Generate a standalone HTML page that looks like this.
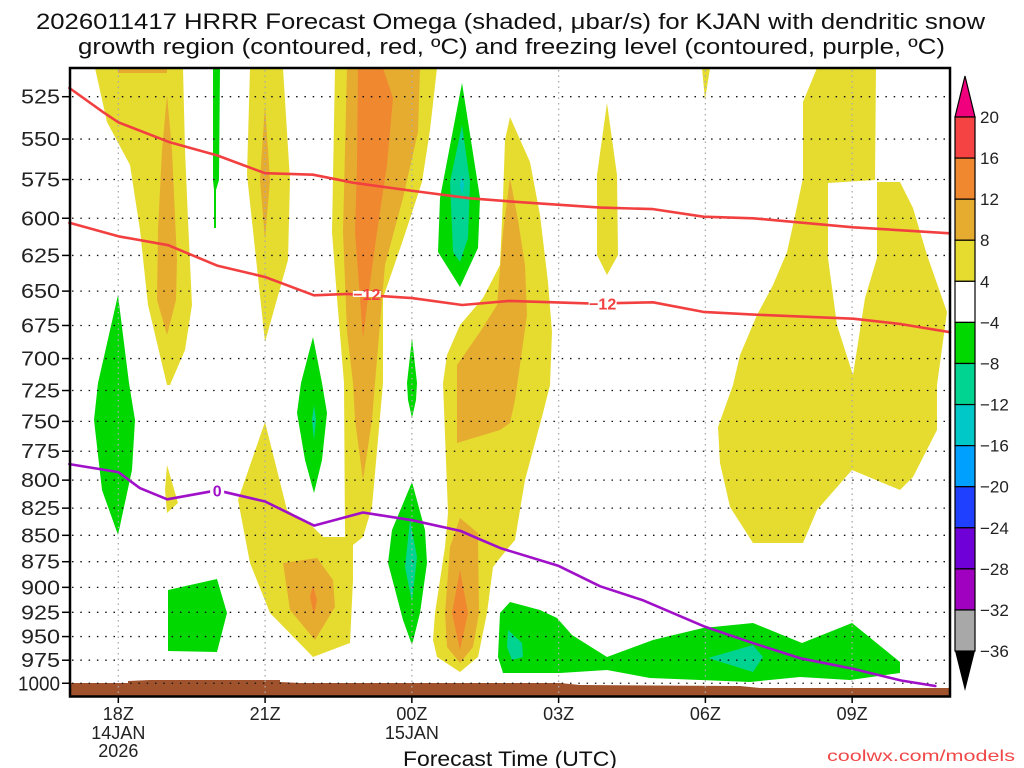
<!DOCTYPE html>
<html><head><meta charset="utf-8"><title>HRRR Omega</title>
<style>
html,body{margin:0;padding:0;background:#fff;width:1024px;height:768px;overflow:hidden}
svg{display:block;font-family:"Liberation Sans",sans-serif}
</style></head>
<body>
<svg id="chart" width="1024" height="768" viewBox="0 0 1024 768" xmlns="http://www.w3.org/2000/svg">
<text x="36" y="29" font-size="22" textLength="949" lengthAdjust="spacingAndGlyphs" fill="#111">2026011417 HRRR Forecast Omega (shaded, μbar/s) for KJAN with dendritic snow</text>
<text x="78" y="54" font-size="22" textLength="867" lengthAdjust="spacingAndGlyphs" fill="#111">growth region (contoured, red, ºC) and freezing level (contoured, purple, ºC)</text>

<g>
<g fill="#e6dc30">
<polygon points="95,68 183,68 185,150 188,220 192,305 185,350 170,385 167,385 148,305 140,230 130,165 107,122"/>
<polygon points="250,68 283,68 290,180 288,260 265,342 247,175"/>
<polygon points="335,68 437,68 430,130 422,182 403,240 383,298 383,383 372,507 363,537 353,545 353,580 350,643 313,657 270,613 250,563 238,500 265,422 287,510 313,527 323,537 345,537 344,383 337,298 332,232"/>
<polygon points="510,117 530,162 540,215 548,282 552,332 550,385 543,413 525,480 515,540 500,558 493,567 487,613 478,657 460,672 437,657 433,640 435,613 445,547 448,513 443,383 447,355 460,325 483,298 500,265 503,198 505,140"/>
<polygon points="607,103 617,175 618,255 607,275 597,255 597,175"/>
<polygon points="702,68 710,68 705,100"/>
<polygon points="167,465 178,503 167,513 165,490"/>
<polygon points="817,68 876,68 875,180 828,183 828,258 837,325 853,375 865,298 877,258 877,182 900,182 913,208 927,255 947,312 937,385 937,430 913,477 900,490 852,470 817,510 803,543 753,543 730,507 720,463 718,427 733,385 740,355 757,315 773,285 787,252 793,225 803,178 803,102"/>
</g>
<g fill="#e6ac30">
<polygon points="118,68 167,68 167,73 118,73"/>
<polygon points="167,95 172,150 177,260 176,300 167,335 157,300 158,230 162,150"/>
<polygon points="265,105 270,180 265,240 260,180"/>
<polygon points="347,68 420,68 418,132 403,198 385,265 375,383 372,420 363,480 355,420 353,383 347,332 343,232"/>
<polygon points="510,178 518,220 525,265 527,315 520,365 515,400 510,423 500,430 457,443 457,365 480,332 497,305 503,232"/>
<polygon points="460,518 478,533 479,613 473,647 460,663 447,647 445,613 450,547"/>
<polygon points="283,563 317,558 333,580 335,607 315,640 290,610"/>
</g>
<g fill="#f08830">
<polygon points="358,68 383,68 393,98 387,165 377,232 368,298 363,338 360,298 355,232 357,165"/>
<polygon points="460,570 468,613 460,650 452,613"/>
<polygon points="313,585 317,600 314,615 310,597"/>
</g>
<g fill="#00d800">
<polygon points="213,68 220,68 219,180 216,190 216,228 214,228 214,190 213,180"/>
<polygon points="118,295 129,383 135,420 132,470 118,535 102,490 94,420 98,383"/>
<polygon points="313,337 322,383 327,413 322,460 314,493 305,460 297,413 301,383"/>
<polygon points="412,338 417,383 416,400 412,418 408,400 407,383"/>
<polygon points="462,83 480,198 478,248 460,287 438,252 440,198"/>
<polygon points="412,482 425,530 427,563 420,613 412,645 403,620 388,563 392,530"/>
<polygon points="168,590 217,579 227,613 217,652 168,651"/>
<polygon points="500,613 510,602 540,610 557,618 572,635 607,657 653,640 703,628 753,623 802,643 852,623 900,662 900,673 850,680 800,677 750,682 700,680 650,678 607,670 560,673 503,673 498,657"/>
</g>
<g fill="#00d490">
<polygon points="462,125 470,182 468,238 460,262 453,252 450,182"/>
<polygon points="314,405 316,420 314,440 312,420"/>
<polygon points="410,520 417,557 412,602 405,567"/>
<polygon points="508,630 522,643 523,657 512,660 507,647"/>
<polygon points="708,658 753,645 763,657 753,672"/>
</g>
<polygon fill="#00c8c8" points="462,175 464,185 462,195 460,185"/>
</g>

<polygon fill="#a0522d" points="70,683 128,683 128,681 150,680 280,680 280,682 300,683 560,683 580,685 740,686 760,688 950,688 950,697 70,697"/>

<g id="grid"></g>
<g id="lines"></g>

<rect x="70" y="68" width="880" height="628.5" fill="none" stroke="#000" stroke-width="2.5"/>
<g id="axes" font-size="20" fill="#222"></g>
<g id="colorbar"></g>

<text x="403" y="766" font-size="21" textLength="214" lengthAdjust="spacingAndGlyphs" fill="#111">Forecast Time (UTC)</text>
<text x="827" y="761" font-size="16" textLength="188" lengthAdjust="spacingAndGlyphs" fill="#f04848">coolwx.com/models</text>
</svg>
<script>
const NS='http://www.w3.org/2000/svg';
const hourMin=0, hourMax=18;
const pressureTicks=[525,550,575,600,625,650,675,700,725,750,775,800,825,850,875,900,925,950,975,1000];
const timeTickHours=[1,4,7,10,13,16];
const timeTickLabels=['18Z','21Z','00Z','03Z','06Z','09Z'];
const timeTickDates=[['14JAN','2026'],[],['15JAN'],[],[],[]];
const dgzUpperHours=[0,0.69,1,2.06,3.02,4,4.98,5.8,6.96,8.19,9,10.85,11.93,12.96,13.98,16.02,18];
const dgzUpperP=[520,534,540,552,560,571,572,577,582,587,589,593,594,599,600,606,610];
const dgzLowerHours=[0,1,2.02,3.02,4,5,5.68,7,8.03,9,10.7,11.93,12.96,13.98,16.02,17,18];
const dgzLowerP=[603,612,618,632,640,653,652,655,660,657,659,658,665,667,670,674,680];
const frzHours=[0,1,1.44,2,3.02,4,5,6,7,8,8.35,8.81,10,10.85,11.73,13,13.98,14.94,16,17,17.7];
const frzP=[786,793,807,817,809,819,841,829,836,846,853,862,879,899,913,940,957,973,984,997,1003];
const cbLabels=['20','16','12','8','4','−4','−8','−12','−16','−20','−24','−28','−32','−36'];
const cbColors=['#f54242','#f08830','#e6ac30','#e6dc30','#ffffff','#00d800','#00d490','#00c8c8','#00a0ff','#2040ff','#7000d8','#a000c0','#a8a8a8'];

function xScale(h){return 69.4+(h-hourMin)*(950-69.4)/(hourMax-hourMin);}
function yScale(p){return 96.7+910.3*Math.log(p/525);}
function mk(tag,attrs,parent){const e=document.createElementNS(NS,tag);for(const k in attrs)e.setAttribute(k,attrs[k]);parent.appendChild(e);return e;}

const grid=document.getElementById('grid');
pressureTicks.forEach(p=>{
  const y=yScale(p);
  const l=mk('line',{x1:72,x2:948,y1:y,y2:y,stroke:'#111','stroke-width':1.3,'stroke-dasharray':'1.5 6.8'},grid);
  
  
});
timeTickHours.forEach(h=>{
  const x=xScale(h);
  const l=mk('line',{x1:x,x2:x,y1:70,y2:695,stroke:'#aaa','stroke-width':1.3,'stroke-dasharray':'1.5 4'},grid);
  
  
});

const lines=document.getElementById('lines');
function drawLine(hs,ps,color,name){
  const pts=hs.map((h,i)=>xScale(h).toFixed(1)+','+yScale(ps[i]).toFixed(1)).join(' ');
  const pl=mk('polyline',{points:pts,fill:'none',stroke:color,'stroke-width':2.6,'stroke-linejoin':'round','stroke-linecap':'round'},lines);
  
  
}
drawLine(dgzUpperHours,dgzUpperP,'#f24040','dgz-minus18-contour');
drawLine(dgzLowerHours,dgzLowerP,'#f24040','dgz-minus12-contour');
drawLine(frzHours,frzP,'#a010c8','freezing-level-contour');
function contourLabel(h,p,txt,color,name,w){
  const x=xScale(h),y=yScale(p);
  const r=mk('rect',{x:x-w/2,y:y-3,width:w,height:6,fill:'#fff'},lines);
  
  
  const t=mk('text',{x:x,y:y+6,'text-anchor':'middle','font-size':16,'font-weight':'bold',fill:color},lines);
  t.textContent=txt;
  
  
}
contourLabel(dgzLowerHours[6]+0.4,dgzLowerP[6],'−12','#f24040','contour-label-minus12-a',28);
contourLabel(10.9,dgzLowerP[10],'−12','#f24040','contour-label-minus12-b',28);
contourLabel(3.02,809,'0','#a010c8','contour-label-zero',14);

const axes=document.getElementById('axes');
pressureTicks.forEach(p=>{
  const y=yScale(p);
  const tk=mk('line',{x1:62,x2:70,y1:y,y2:y,stroke:'#000','stroke-width':1.5},axes);
  
  
  const s=String(p);
  const t=mk('text',{x:s.length>3?18:21,y:y+7,textLength:s.length>3?42:39,lengthAdjust:'spacingAndGlyphs'},axes);
  t.textContent=s;
  
  
});
timeTickHours.forEach((h,i)=>{
  const x=xScale(h);
  const tk=mk('line',{x1:x,x2:x,y1:696,y2:703,stroke:'#000','stroke-width':1.5},axes);
  
  
  const t=mk('text',{x:x,y:720,'text-anchor':'middle','font-size':18},axes);
  t.textContent=timeTickLabels[i];
  
  
  timeTickDates[i].forEach((d,j)=>{
    const dt=mk('text',{x:x,y:739+j*18,'text-anchor':'middle','font-size':18},axes);
    dt.textContent=d;
    
    
  });
});

const cb=document.getElementById('colorbar');
const cbTop=117, cbStep=41.08, cbX=955, cbW=20;
const up=mk('polygon',{points:`${cbX},${cbTop} ${cbX+cbW},${cbTop} ${cbX+cbW/2},76`,fill:'#f0007c',stroke:'#000','stroke-width':1.2},cb);


cbColors.forEach((c,i)=>{
  const r=mk('rect',{x:cbX,y:cbTop+i*cbStep,width:cbW,height:cbStep,fill:c,stroke:'#000','stroke-width':1.2},cb);
  
  
});
const cbBot=cbTop+cbColors.length*cbStep;
const dn=mk('polygon',{points:`${cbX},${cbBot} ${cbX+cbW},${cbBot} ${cbX+cbW/2},691`,fill:'#000'},cb);


cbLabels.forEach((l,i)=>{
  const t=mk('text',{x:980,y:cbTop+i*cbStep+6,'font-size':17,fill:'#222'},cb);
  t.textContent=l;
  
  
});
</script>
</body></html>
